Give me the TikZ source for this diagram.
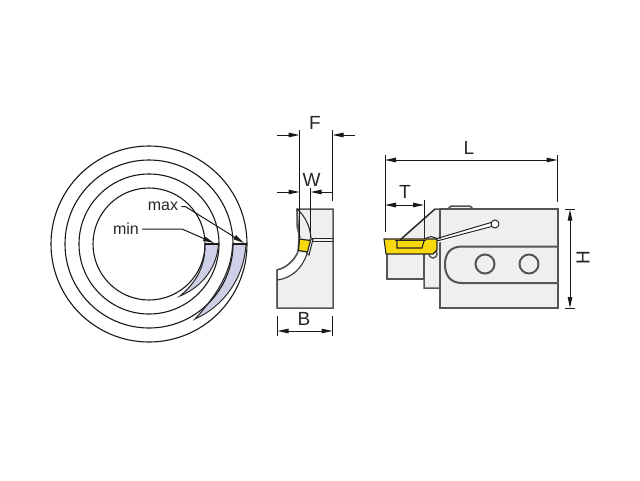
\documentclass[tikz,border=0pt]{standalone}
\usepackage{fontspec}
\setmainfont{Liberation Sans}
\usetikzlibrary{arrows.meta}
\definecolor{bodyfill}{HTML}{EFEFEF}
\definecolor{cres}{HTML}{CDD0E6}
\definecolor{ins}{HTML}{F7D90E}
\definecolor{edge}{HTML}{555555}
\tikzset{
  ring/.style={draw=black!90,line width=1.1pt},
  outl/.style={draw=edge,line width=1.5pt},
  thin line/.style={draw=black!85,line width=1pt},
  dimline/.style={draw=black!90,line width=1pt},
  dim both/.style={dimline,{Triangle[length=11pt,width=4.5pt]}-{Triangle[length=11pt,width=4.5pt]}},
  dim to/.style={dimline,-{Triangle[length=11pt,width=4.5pt]}},
  lab/.style={font=\fontsize{19}{19}\selectfont,inner sep=0pt,text=black!85},
  small lab/.style={font=\fontsize{16}{16}\selectfont,inner sep=0pt,text=black!85},
}
\begin{document}
\begin{tikzpicture}[x=1pt,y=-1pt]
\useasboundingbox (0,0) rectangle (640,480);
% ---- rings
\fill[cres] (205,244) -- (218.5,244) .. controls (218,268) and (203,284) .. (180,296) .. controls (194,282) and (206,268) .. cycle;
\fill[cres] (232.5,244) -- (246,244) .. controls (244,280) and (222,304) .. (195,319) .. controls (218,294) and (232,272) .. cycle;
\foreach \r in {98,84,70,56} \draw[ring] (149,244) circle (\r);
\draw[thin line] (205,244) .. controls (205.5,265) and (197,282) .. (180,296) .. controls (204,286) and (217,266) .. (218.5,244);
\draw[thin line] (232.5,244) .. controls (232,270) and (218,294) .. (195,319) .. controls (224,306) and (244,278) .. (246,244);
\draw[ring] (205,244) -- (219,244);
\draw[ring] (233,244) -- (247,244);
\node[small lab] (maxlab) at (163,206.5) {max};
\node[small lab] (minlab) at (126,229) {min};
\coordinate (maxend) at (244,243);
\coordinate (minend) at (214,243);
\draw[dim to] (maxlab.east) ++(3,0) -- ++(4,0) -- (maxend);
\draw[dim to] (minlab.east) ++(3,0) -- (182,229) -- (minend);
% ---- middle view
\draw[outl,fill=bodyfill] (297,209) -- (333,209) -- (333,308) -- (277,308) -- (277,270)
  .. controls (286,268) and (294,261) .. (298,252) -- (299,238) -- cycle;
\fill[white] (298,252) .. controls (294,261) and (286,268) .. (277,270) -- (277,280)
  .. controls (292,278) and (302,268) .. (307,254) -- cycle;
\draw[outl] (297,209) -- (297,226) -- (300,238);
\draw[thin line] (297,209) .. controls (305,216) and (310,226) .. (311,238);
\draw[outl] (277,308) -- (277,270) .. controls (286,268) and (294,261) .. (298,252);
\draw[thin line] (277.5,280) .. controls (292,278) and (302,268) .. (307,254);
\draw[thin line] (311,238.5) -- (333,238.5);
\draw[thin line] (311,241) -- (333,241);
\draw[thin line,fill=white] (310,239) -- (313,239) -- (309,255) -- (306.5,253) -- cycle;
\draw[draw=black!85,line width=1.2pt,fill=ins] (299.5,239) -- (310.5,240.5) -- (307.5,252) -- (298.5,250.5) -- cycle;
% dimensions F W B
\coordinate (Fl) at (299.5,130); \coordinate (Fl2) at (299.5,238);
\coordinate (Fr) at (332.5,130); \coordinate (Fr2) at (332.5,201);
\coordinate (Wm) at (310.5,188); \coordinate (Wm2) at (310.5,238);
\draw[dimline] (Fl) -- (Fl2);
\draw[dimline] (Fr) -- (Fr2);
\draw[dimline] (Wm) -- (Wm2);
\coordinate (Fal) at (277,135); \coordinate (Far) at (355,135);
\draw[dim to] (Fal) -- (Fl |- Fal);
\draw[dim to] (Far) -- (Fr |- Far);
\coordinate (Wal) at (277,192); \coordinate (War) at (332.5,192);
\draw[dim to] (Wal) -- (Fl |- Wal);
\draw[dim to] (War) -- (Wm |- War);
\node[lab] (F) at (315,122.5) {F};
\node[lab] (W) at (311.5,180) {W};
\coordinate (Bl) at (277.5,316); \coordinate (Bl2) at (277.5,336);
\coordinate (Br) at (332.5,316); \coordinate (Br2) at (332.5,336);
\draw[dimline] (Bl) -- (Bl2);
\draw[dimline] (Br) -- (Br2);
\coordinate (Bal) at (277.5,331); \coordinate (Bar) at (332.5,331);
\draw[dim both] (Bal) -- (Bar);
\node[lab] (B) at (304,318.5) {B};
% ---- right view
\draw[outl,fill=bodyfill] (387,253) -- (387,279) -- (424,279) -- (424,253) -- cycle;
\draw[outl,fill=bodyfill] (400,240) -- (435,209) -- (440,209) -- (440,288) -- (424,288) -- (424,240) -- cycle;
\draw[thin line] (424,220) -- (424,240);
\draw[outl,fill=bodyfill] (448,209) -- (451,206) -- (470,206) -- (473,209) -- cycle;
\draw[outl,fill=bodyfill] (440,209) -- (558,209) -- (558,308) -- (440,308) -- cycle;
% slot
\draw[draw=edge,line width=2pt] (558,246.5) -- (462,246.5) .. controls (450,246.5) and (445,254) .. (445,264.5)
  .. controls (445,275) and (450,283) .. (462,283) -- (558,283);
\draw[draw=edge,line width=2pt,fill=bodyfill] (485,264) circle (9.5);
\draw[draw=edge,line width=2pt,fill=bodyfill] (529,264) circle (9.5);
% spring slit
\draw[outl,fill=white] (433,254) circle (4);
\fill[white] (437,240) -- (491,222) -- (492,227) -- (437,243) -- cycle;
\draw[thin line] (424,239) -- (431,236.5) -- (437,238.5) -- (491,222.5);
\draw[thin line] (437,241) -- (491.5,226.5);
\draw[thin line,fill=white] (495,224) circle (4);
% insert
\draw[draw=black!85,line width=1.1pt,fill=ins] (384,239) -- (437,239) -- (437,250) -- (433,254) -- (386,254) -- cycle;
\draw[draw=black!85,line width=1.1pt] (397,241) -- (397,248) -- (422,248) -- (424,241);
\draw[draw=black!85,line width=1.1pt] (395,240.5) -- (426,240.5);
\draw[thin line] (400,240) -- (435,209);
% dimensions L T H
\coordinate (Ll) at (385,155); \coordinate (Ll2) at (385,232);
\coordinate (Lr) at (557.5,155); \coordinate (Lr2) at (557.5,202);
\draw[dimline] (Ll) -- (Ll2);
\draw[dimline] (Lr) -- (Lr2);
\coordinate (Lal) at (385,160); \coordinate (Lar) at (557.5,160);
\draw[dim both] (Lal) -- (Lar);
\node[lab] (L) at (469,148) {L};
\coordinate (Tr) at (424,200); \coordinate (Tr2) at (424,222);
\draw[dimline] (Tr) -- (Tr2);
\coordinate (Tal) at (385,205); \coordinate (Tar) at (424,205);
\draw[dim both] (Tal) -- (Tar);
\node[lab] (T) at (405,192) {T};
\coordinate (Ht1) at (565,209.5); \coordinate (Ht2) at (575,209.5);
\coordinate (Hb1) at (565,308); \coordinate (Hb2) at (575,308);
\draw[dimline] (Ht1) -- (Ht2);
\draw[dimline] (Hb1) -- (Hb2);
\coordinate (Hat) at (570,209.5); \coordinate (Hab) at (570,308);
\draw[dim both] (Hat) -- (Hab);
\node[lab,rotate=90] (H) at (583,258) {H};
\end{tikzpicture}
\end{document}
